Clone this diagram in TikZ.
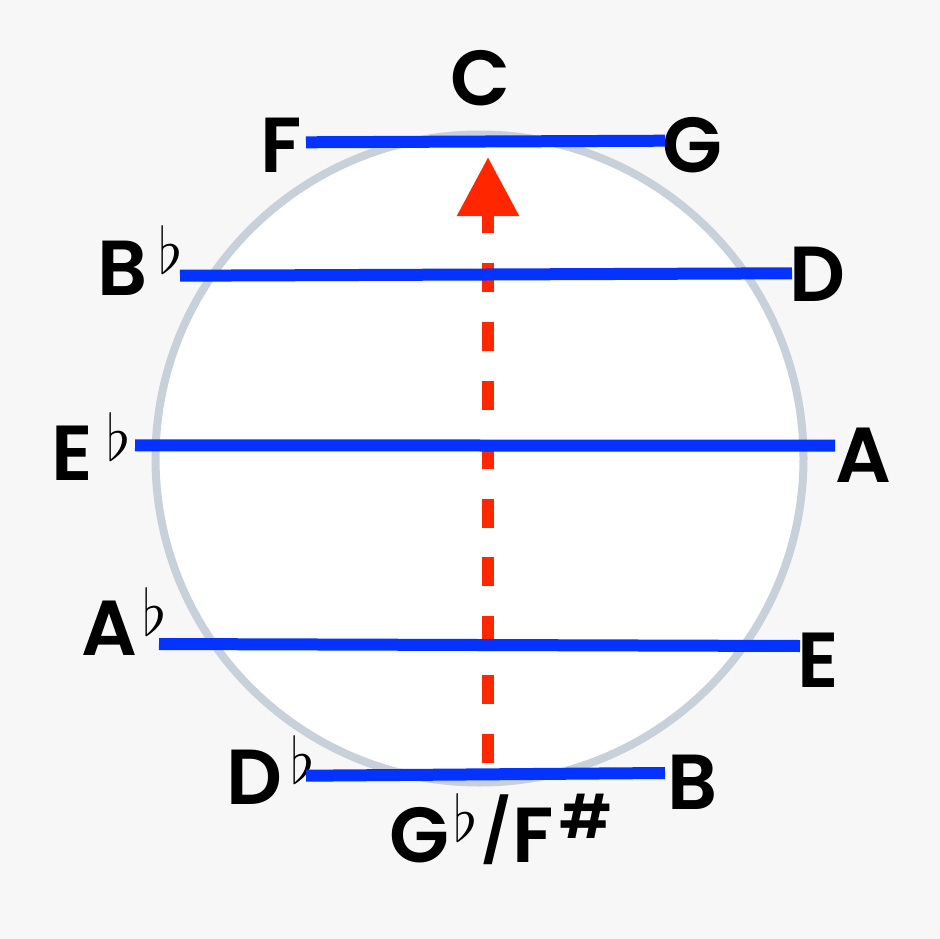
\RequirePackage{fix-cm}
\documentclass[tikz,border=0pt]{standalone}
\usepackage{fontspec}
\setmainfont{Poppins}[BoldFont={Poppins SemiBold}]
\usetikzlibrary{arrows.meta}
\definecolor{bg}{HTML}{F7F7F7}
\definecolor{ringgray}{HTML}{C8D0DA}
\definecolor{kblue}{HTML}{0433FF}
\definecolor{kred}{HTML}{FF2600}
\tikzset{
  note/.style={font=\fontsize{78}{78}\selectfont\bfseries, inner sep=0pt, text=black, anchor=base west},
  flatsign/.style={font=\fontsize{64}{64}\selectfont, inner sep=0pt, text=black, anchor=base west},
  sharpsign/.style={font=\fontsize{60}{60}\selectfont\bfseries, inner sep=0pt, text=black, anchor=base west},
  slashsign/.style={font=\fontsize{62}{62}\selectfont\bfseries, inner sep=0pt, text=black, anchor=base west},
  chord/.style={draw=kblue, line width=12pt},
  axis/.style={draw=kred, line width=12pt, dash pattern=on 29pt off 29.86pt, -{Triangle[width=59pt,length=59pt]}},
}
\begin{document}
\begin{tikzpicture}[x=1pt,y=-1pt]
\useasboundingbox (0,0) rectangle (940,939);
\fill[bg] (0,0) rectangle (940,939);
\node[draw=ringgray, fill=white, line width=8pt, circle, minimum size=648pt, inner sep=0pt] (wheel) at (479.5,458.5) {};

% labels
\node[note, anchor=base] (C) at (480,106) {C};
\node[note] (F) at (260,172) {F};
\node[note] (G) at (662,172) {G};
\node[note] (Bb) at (97,295) {B};
\node[flatsign] (Bbf) at (158,273) {$\flat$};
\node[note] (D) at (789,301) {D};
\node[note] (Eb) at (51,480) {E};
\node[flatsign] (Ebf) at (106,460) {$\flat$};
\node[note] (A) at (835,482) {A};
\node[note] (Ab) at (81,655) {A};
\node[flatsign] (Abf) at (142,635) {$\flat$};
\node[note] (E) at (797,687) {E};
\node[note] (Db) at (226,804) {D};
\node[flatsign] (Dbf) at (290,783) {$\flat$};
\node[note] (B) at (667,809) {B};
\node[note] (Gb) at (389,862) {G};
\node[flatsign] (Gbf) at (453,841) {$\flat$};
\node[slashsign] (slash) at (481,853) {/};
\node[note] (Fs) at (512,862) {F};
\node[sharpsign] (Fss) at (559,838) {\#};

% chord end points
\coordinate (lF) at (306,142.3);  \coordinate (rG) at (665,140.7);
\coordinate (lBb) at (180,275.7); \coordinate (rD) at (792,273.3);
\coordinate (lEb) at (135,445.3); \coordinate (rA) at (835,445.7);
\coordinate (lAb) at (159,644);   \coordinate (rE) at (800,646);
\coordinate (lDb) at (306,775.7); \coordinate (rB) at (665,773);

% axis arrow
\coordinate (tail) at (488,763);
\coordinate (tip) at (488,157);
\draw[axis] (tail) -- (tip);

% chords
\draw[chord] (lF) -- (rG);
\draw[chord] (lBb) -- (rD);
\draw[chord] (lEb) -- (rA);
\draw[chord] (lAb) -- (rE);
\draw[chord] (lDb) -- (rB);
\end{tikzpicture}
\end{document}
